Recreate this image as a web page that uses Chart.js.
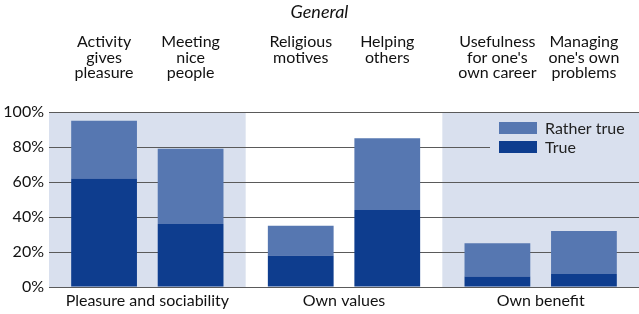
<!DOCTYPE html>
<html>
<head>
<meta charset="utf-8">
<script src="https://cdn.jsdelivr.net/npm/chart.js@4.4.1/dist/chart.umd.min.js"></script>
<style>
  html, body { margin: 0; padding: 0; background: #fff; }
  #wrap { width: 639px; height: 314px; }
</style>
</head>
<body>
<div id="wrap"><canvas id="chart"></canvas></div>
<script>
// data
const groups = ['Pleasure and sociability', 'Own values', 'Own benefit'];
const items = [
  ['Activity', 'gives', 'pleasure'],
  ['Meeting', 'nice', 'people'],
  ['Religious', 'motives'],
  ['Helping', 'others'],
  ['Usefulness', "for one's", 'own career'],
  ['Managing', "one's own", 'problems']
];
const trueVals = [62, 36, 18, 44, 6, 7.5];
const ratherTrueVals = [33, 43, 17, 41, 19, 24.5];
const yTicks = [0, 20, 40, 60, 80, 100];
const shadedGroups = [0, 2];

const darkBlue = '#0e3d8e';
const lightBlue = '#5677b1';
const shade = '#d9e0ee';
const font = 'Lato';

// first / second bar of every group
const firstOf = (arr) => arr.filter((v, i) => i % 2 === 0);
const secondOf = (arr) => arr.filter((v, i) => i % 2 === 1);

// shaded background behind groups
const groupShade = {
  id: 'groupShade',
  beforeDraw(chart) {
    const { ctx, chartArea, scales } = chart;
    const step = (chartArea.right - chartArea.left) / groups.length;
    ctx.save();
    ctx.fillStyle = shade;
    shadedGroups.forEach((g) => {
      const cx = scales.x.getPixelForValue(g);
      ctx.fillRect(cx - step / 2, chartArea.top, step, chartArea.bottom - chartArea.top);
    });
    ctx.restore();
  }
};

// bar captions above the plot + legend box
const extras = {
  id: 'extras',
  afterDatasetsDraw(chart) {
    const { ctx, chartArea } = chart;
    ctx.save();
    ctx.fillStyle = '#111';
    ctx.font = '16px ' + font;
    ctx.textAlign = 'center';
    ctx.textBaseline = 'middle';
    items.forEach((lines, k) => {
      const g = Math.floor(k / 2);
      const meta = chart.getDatasetMeta(k % 2 === 0 ? 0 : 2);
      const x = meta.data[g].x;
      lines.forEach((t, j) => ctx.fillText(t, x, 42 + j * 15.5));
    });

    // legend
    const lx = chartArea.right - 149;
    ctx.fillStyle = shade;
    ctx.fillRect(lx, chartArea.top + 4, chartArea.right - lx, 44);
    const entries = [['Rather true', lightBlue], ['True', darkBlue]];
    entries.forEach(([label, col], i) => {
      const y = chartArea.top + 10 + i * 19;
      ctx.fillStyle = col;
      ctx.fillRect(lx + 9, y, 38, 12);
      ctx.fillStyle = '#222';
      ctx.textAlign = 'left';
      ctx.fillText(label, lx + 55, y + 6.5);
    });
    ctx.restore();
  }
};

new Chart(document.getElementById('chart').getContext('2d'), {
  type: 'bar',
  data: {
    labels: groups,
    datasets: [
      { label: 'True', data: firstOf(trueVals), stack: 'a', backgroundColor: darkBlue },
      { label: 'Rather true', data: firstOf(ratherTrueVals), stack: 'a', backgroundColor: lightBlue },
      { label: 'True', data: secondOf(trueVals), stack: 'b', backgroundColor: darkBlue },
      { label: 'Rather true', data: secondOf(ratherTrueVals), stack: 'b', backgroundColor: lightBlue }
    ]
  },
  options: {
    responsive: true,
    maintainAspectRatio: false,
    animation: false,
    categoryPercentage: 0.88,
    barPercentage: 0.76,
    borderWidth: 0,
    layout: { padding: { top: 0, right: 0, bottom: 0, left: 0 } },
    plugins: {
      legend: { display: false },
      tooltip: { enabled: false },
      title: {
        display: true,
        text: 'General',
        color: '#111',
        font: { family: font, size: 18, style: 'italic', weight: 'normal' },
        padding: { top: 1, bottom: 89.4 }
      }
    },
    scales: {
      x: {
        stacked: true,
        grid: { display: false, drawTicks: false },
        border: { display: false },
        ticks: {
          color: '#111',
          padding: 4,
          font: { family: font, size: 16 }
        },
        afterFit: (scale) => { scale.height = 27; }
      },
      y: {
        stacked: true,
        min: 0,
        max: 100,
        afterBuildTicks: (scale) => { scale.ticks = yTicks.map((v) => ({ value: v })); },
        grid: { color: '#5a5a5a', lineWidth: 1, drawTicks: false },
        border: { display: false },
        ticks: {
          color: '#111',
          padding: 5,
          font: { family: font, size: 16 },
          callback: (v) => v + '%'
        },
        afterFit: (scale) => { scale.width = 49; }
      }
    }
  },
  plugins: [groupShade, extras]
});
</script>
</body>
</html>
